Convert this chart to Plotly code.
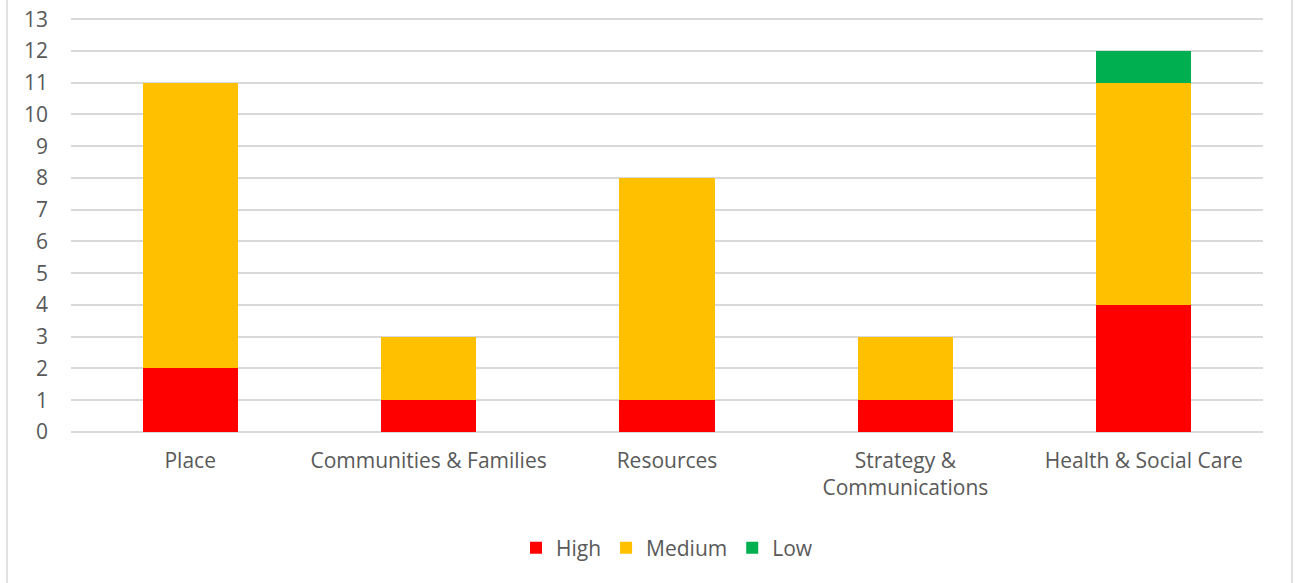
import plotly.graph_objects as go

categories = ["Place", "Communities & Families", "Resources", "Strategy &<br>Communications", "Health & Social Care"]
high = [2, 1, 1, 1, 4]
medium = [9, 2, 7, 2, 7]
low = [0, 0, 0, 0, 1]
y_ticks = list(range(0, 14))

font = "Open Sans"
grey = "#595959"
fs = 21

fig = go.Figure()
fig.add_trace(go.Bar(name="High", x=categories, y=high, marker=dict(color="#FF0000", line=dict(width=0))))
fig.add_trace(go.Bar(name="Medium", x=categories, y=medium, marker=dict(color="#FFC000", line=dict(width=0))))
fig.add_trace(go.Bar(name="Low", x=categories, y=low, marker=dict(color="#00B050", line=dict(width=0))))

W, H = 1299, 583
YMAX = 13.1
top_px = 432 - (432 - 19.5) * YMAX / 13
L, T = 71, int(round(top_px))
R = W - 1263
B = H - 432
pw = W - L - R

fig.update_layout(
    width=W, height=H,
    barmode="stack", bargap=0.6,
    margin=dict(l=L, r=R, t=T, b=B, autoexpand=False),
    plot_bgcolor="white", paper_bgcolor="white",
    font=dict(family=font, size=fs, color=grey),
    showlegend=True,
    legend=dict(orientation="h", x=0.5, xanchor="center", y=-0.279, yanchor="middle",
                font=dict(size=fs, color=grey), traceorder="normal", itemwidth=30),
    xaxis=dict(showgrid=False, showline=False, ticks="", ticklabelstandoff=14, automargin=False,
               tickfont=dict(size=fs, color=grey)),
    yaxis=dict(range=[0, YMAX], tickvals=y_ticks, showgrid=True, gridcolor="#D9D9D9", gridwidth=1.5,
               zeroline=True, zerolinecolor="#D9D9D9", zerolinewidth=1.5, showline=False, automargin=False,
               ticks="", ticklabelstandoff=22, tickfont=dict(size=fs, color=grey)),
    shapes=[dict(type="rect", xref="paper", yref="paper",
                 x0=(7 - L) / pw, x1=(1292 - L) / pw, y0=-0.6, y1=1.2,
                 line=dict(color="#D9D9D9", width=1.5), layer="below")],
)

fig.write_html("out.html", config={"displayModeBar": False},
               post_script="document.body.style.margin='0';document.body.style.overflow='hidden';")
